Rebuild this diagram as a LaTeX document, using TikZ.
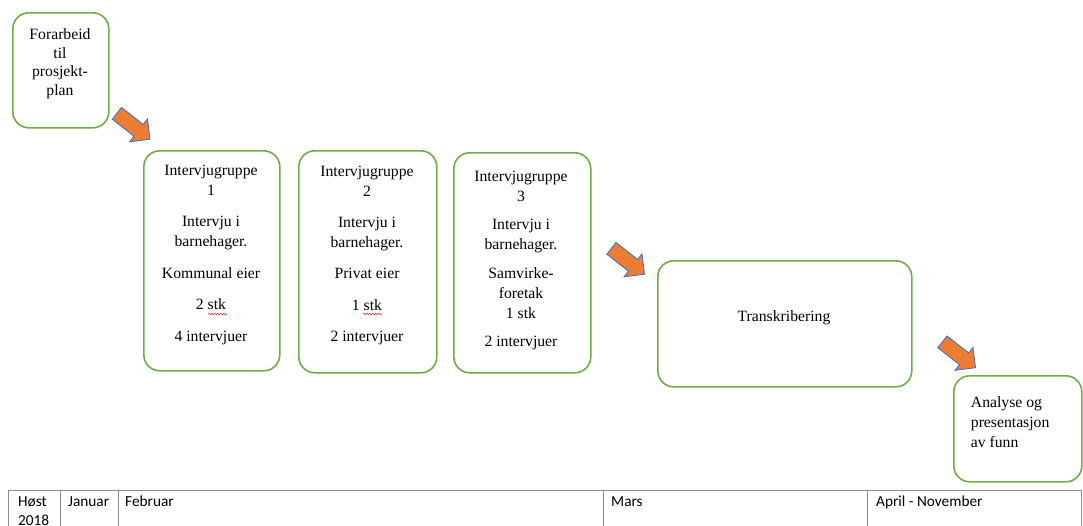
\documentclass[tikz,border=0pt]{standalone}
\usepackage{fontspec}
\setmainfont{Liberation Serif}
\newfontfamily\tablefont{Carlito}
\usetikzlibrary{shapes.arrows,decorations.pathmorphing}
\definecolor{boxgreen}{HTML}{70AD47}
\definecolor{arroworange}{HTML}{ED7D31}
\definecolor{arrowedge}{HTML}{4472C4}
\definecolor{rulegray}{HTML}{8C8C8C}
\definecolor{spellred}{HTML}{E04040}

\begin{document}
\begin{tikzpicture}[x=1pt,y=-1pt,
  stage/.style={draw=boxgreen, line width=1.6pt, rounded corners=16pt,
    anchor=north west, inner sep=0pt},
  bodytext/.style={font=\fontsize{15.7}{20}\selectfont, inner sep=0pt,
    align=center, anchor=north},
  flowarrow/.style={single arrow, draw=arrowedge, fill=arroworange,
    line width=0.9pt, inner xsep=0pt, inner ysep=7pt,
    single arrow head extend=7pt, minimum height=42pt, rotate=-38},
  cell/.style={font=\tablefont\fontsize{15.3}{19.5}\selectfont,
    inner sep=0pt, anchor=base west, align=left},
  rule/.style={draw=rulegray, line width=0.8pt},
  spell/.style={draw=spellred, line width=0.6pt, decorate,
    decoration={snake, amplitude=0.9pt, segment length=3pt}},
  ]
\useasboundingbox (0,0) rectangle (1083,525);

% process stages
\node[stage, minimum width=96pt, minimum height=115pt] (prep) at (12,12) {};
\node[stage, minimum width=136pt, minimum height=220pt] (g1) at (143,150) {};
\node[stage, minimum width=138pt, minimum height=222pt] (g2) at (298,150) {};
\node[stage, minimum width=137pt, minimum height=220pt] (g3) at (453,152) {};
\node[stage, minimum width=254pt, minimum height=126pt] (trans) at (657,260) {};
\node[stage, minimum width=128pt, minimum height=106pt] (anal) at (953,375) {};

% stage texts
\node[bodytext, font=\fontsize{15.7}{18.5}\selectfont] (tprep) at (60,28.8)
  {Forarbeid\\til\\prosjekt-\\plan};
\node[bodytext] (tg1) at (211,164.8)
  {Intervjugruppe\\1\\[11.4pt]Intervju i\\barnehager.\\[11.4pt]Kommunal eier\\[11.4pt]2 stk\\[11.4pt]4 intervjuer};
\node[bodytext] (tg2) at (367,165.5)
  {Intervjugruppe\\2\\[11.4pt]Intervju i\\barnehager.\\[11.4pt]Privat eier\\[11.4pt]1 stk\\[11.4pt]2 intervjuer};
\node[bodytext] (tg3) at (521,170.8)
  {Intervjugruppe\\3\\[8.5pt]Intervju i\\barnehager.\\[8.5pt]Samvirke-\\foretak\\1 stk\\[8.5pt]2 intervjuer};
\node[bodytext, anchor=base] (ttrans) at (784,321.6) {Transkribering};
\node[bodytext, align=left, anchor=north west] (tanal) at (970.7,396.8)
  {Analyse og\\presentasjon\\av funn};

% spell-check marks under "stk"
\draw[spell] (208,314) -- (227,314);
\draw[spell] (363,314) -- (382,314);

% block arrows between stages
\node[flowarrow] (a1) at (130.5,124) {};
\node[flowarrow] (a2) at (625,259) {};
\node[flowarrow] (a3) at (956,352.5) {};

% timeline table
\draw[rule] (8,490) -- (1081,490);
\foreach \cx in {8,60,118,603,867,1081}
  \draw[rule] (\cx,490) -- (\cx,530);
\node[cell, anchor=north west] (cHost) at (18,496) {Høst\\2018};
\node[cell] (cJan) at (68,506) {Januar};
\node[cell] (cFeb) at (125,506) {Februar};
\node[cell] (cMar) at (611,506) {Mars};
\node[cell] (cApr) at (876,506) {April - November};
\end{tikzpicture}
\end{document}
